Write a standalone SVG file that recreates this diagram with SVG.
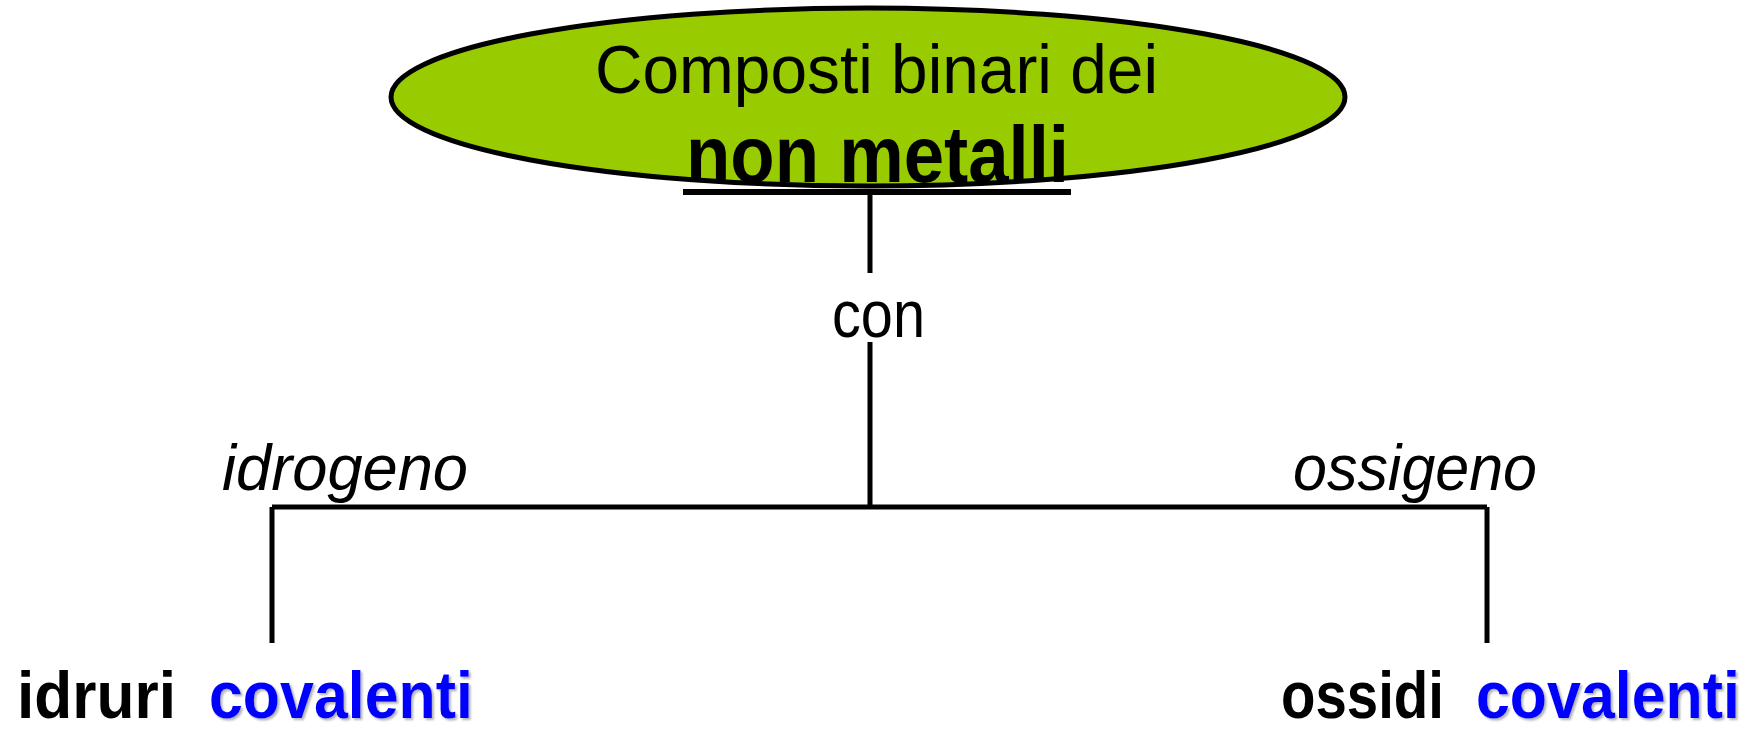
<svg xmlns="http://www.w3.org/2000/svg" width="1763" height="729" viewBox="0 0 1763 729">
<style>
.t{font-family:"Liberation Sans","DejaVu Sans",sans-serif;fill:#000}
.b{font-weight:bold}
.i{font-style:italic}
.blue{fill:#0000ff}
.ln{stroke:#000;stroke-width:5;fill:none}
</style>
<defs>
<filter id="sh" x="-5%" y="-10%" width="115%" height="130%">
<feDropShadow dx="2" dy="2" stdDeviation="1" flood-color="#808080" flood-opacity="0.6"/>
</filter>
</defs>
<rect width="1763" height="729" fill="#fff"/>
<g id="connectors">
<line class="ln" x1="870" y1="193" x2="870" y2="273"/>
<line class="ln" x1="870" y1="342" x2="870" y2="507"/>
<line class="ln" x1="272" y1="507" x2="1487" y2="507"/>
<line class="ln" x1="272" y1="507" x2="272" y2="643"/>
<line class="ln" x1="1487" y1="507" x2="1487" y2="643"/>
</g>
<g id="title">
<ellipse cx="868" cy="97" rx="477" ry="89" fill="#99cc00" stroke="#000" stroke-width="5"/>
<text class="t" x="595" y="93" font-size="68" textLength="563" lengthAdjust="spacingAndGlyphs">Composti binari dei</text>
<text class="t b" x="686" y="182" font-size="80" textLength="383" lengthAdjust="spacingAndGlyphs">non metalli</text>
<rect x="683" y="189" width="388" height="6" fill="#000"/>
</g>
<g id="con">
<text class="t" x="832" y="337" font-size="66" textLength="93" lengthAdjust="spacingAndGlyphs">con</text>
</g>
<g id="idrogeno">
<text class="t i" x="222" y="490" font-size="65" textLength="246" lengthAdjust="spacingAndGlyphs">idrogeno</text>
</g>
<g id="ossigeno">
<text class="t i" x="1293" y="490" font-size="65" textLength="244" lengthAdjust="spacingAndGlyphs">ossigeno</text>
</g>
<g id="idruri">
<text class="t b" x="17" y="718" font-size="66" textLength="159" lengthAdjust="spacingAndGlyphs">idruri</text>
<text class="t b blue" x="209" y="718" font-size="66" textLength="264" lengthAdjust="spacingAndGlyphs" filter="url(#sh)">covalenti</text>
</g>
<g id="ossidi">
<text class="t b" x="1281" y="718" font-size="66" textLength="163" lengthAdjust="spacingAndGlyphs">ossidi</text>
<text class="t b blue" x="1476" y="718" font-size="66" textLength="264" lengthAdjust="spacingAndGlyphs" filter="url(#sh)">covalenti</text>
</g>
</svg>
